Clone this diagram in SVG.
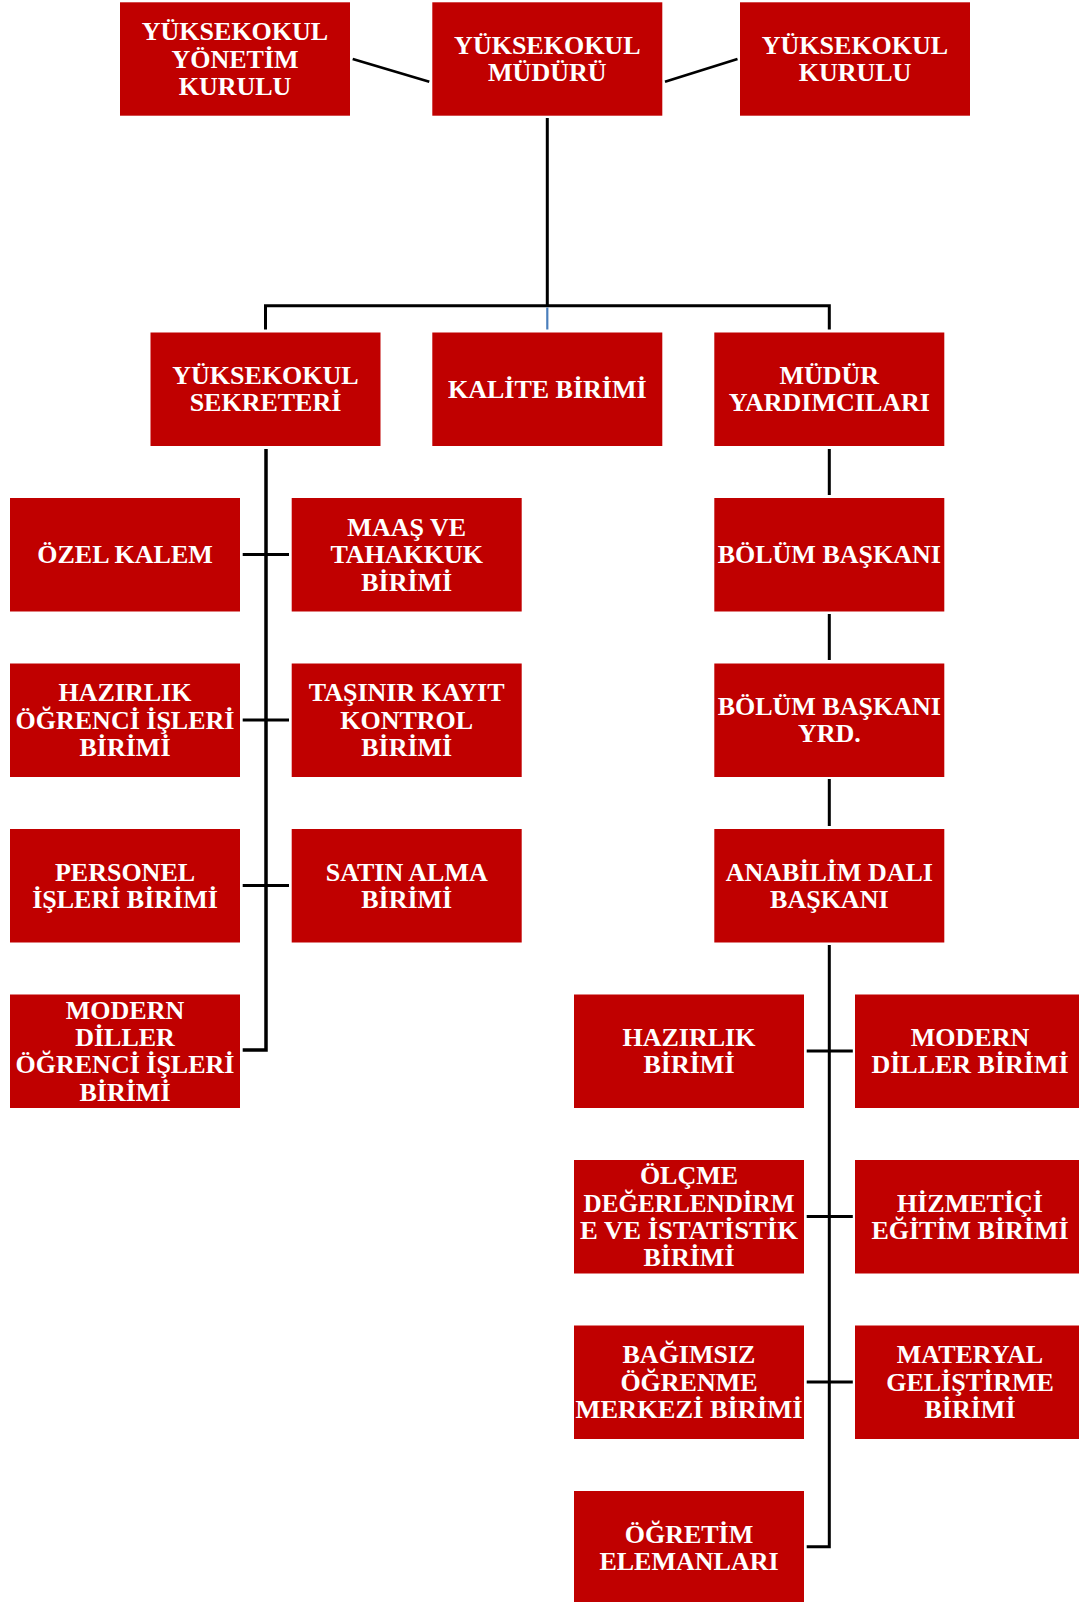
<svg xmlns="http://www.w3.org/2000/svg" width="1079" height="1602" viewBox="0 0 1079 1602">
<style>
.box{fill:#C00000}
.lbl{font-family:"Liberation Serif","Times New Roman",serif;font-weight:bold;font-size:26px;fill:#fff;text-anchor:middle}
.conn{stroke:#000;stroke-width:3;fill:none}
.thin{stroke-width:2.6}
.blue{stroke:#4A7EBB;stroke-width:2.2;fill:none}
</style>
<rect width="1079" height="1602" fill="#fff"/>
<g id="connectors">
<path class="conn thin" d="M352.7,59 L429.3,81.7"/>
<path class="conn thin" d="M665,81.7 L737.5,59"/>
<path class="conn" d="M547.3,118 V306"/>
<path class="conn" d="M265.5,329.5 V305.7 H829.3 V329.5"/>
<path class="blue" d="M547.3,307.5 V329.5"/>
<path class="conn" style="stroke-width:3.5" d="M266,449 V1050 H242.7"/>
<path class="conn" d="M242.7,554.5 H289 M242.7,720 H289 M242.7,885.5 H289"/>
<path class="conn" d="M829.3,449 V495 M829.3,614 V660 M829.3,779 V826"/>
<path class="conn" d="M829.3,945 V1546.7 H806.7"/>
<path class="conn" d="M806.7,1051 H852.8 M806.7,1216.5 H852.8 M806.7,1382 H852.8"/>
</g>
<g id="n_yonetim_kurulu"><rect class="box" x="120" y="2.3" width="230" height="113.4"/><text class="lbl"><tspan x="235" y="40.2">YÜKSEKOKUL</tspan><tspan x="235" y="67.5">YÖNETİM</tspan><tspan x="235" y="94.8">KURULU</tspan></text></g>
<g id="n_mudur"><rect class="box" x="432.3" y="2.3" width="230" height="113.4"/><text class="lbl"><tspan x="547.3" y="53.85">YÜKSEKOKUL</tspan><tspan x="547.3" y="81.15">MÜDÜRÜ</tspan></text></g>
<g id="n_kurulu"><rect class="box" x="740" y="2.3" width="230" height="113.4"/><text class="lbl"><tspan x="855" y="53.85">YÜKSEKOKUL</tspan><tspan x="855" y="81.15">KURULU</tspan></text></g>
<g id="n_sekreter"><rect class="box" x="150.5" y="332.5" width="230" height="113.5"/><text class="lbl"><tspan x="265.5" y="384.1">YÜKSEKOKUL</tspan><tspan x="265.5" y="411.4">SEKRETERİ</tspan></text></g>
<g id="n_kalite"><rect class="box" x="432.3" y="332.5" width="230" height="113.5"/><text class="lbl" x="547.3" y="397.75">KALİTE BİRİMİ</text></g>
<g id="n_mudur_yrd"><rect class="box" x="714.3" y="332.5" width="230" height="113.5"/><text class="lbl"><tspan x="829.3" y="384.1">MÜDÜR</tspan><tspan x="829.3" y="411.4">YARDIMCILARI</tspan></text></g>
<g id="n_ozel_kalem"><rect class="box" x="10" y="498" width="230" height="113.5"/><text class="lbl" x="125" y="563.25">ÖZEL KALEM</text></g>
<g id="n_maas"><rect class="box" x="291.7" y="498" width="230" height="113.5"/><text class="lbl"><tspan x="406.7" y="535.95">MAAŞ VE</tspan><tspan x="406.7" y="563.25">TAHAKKUK</tspan><tspan x="406.7" y="590.55">BİRİMİ</tspan></text></g>
<g id="n_bolum_baskani"><rect class="box" x="714.3" y="498" width="230" height="113.5"/><text class="lbl" x="829.3" y="563.25">BÖLÜM BAŞKANI</text></g>
<g id="n_hazirlik_ogr"><rect class="box" x="10" y="663.5" width="230" height="113.5"/><text class="lbl"><tspan x="125" y="701.45">HAZIRLIK</tspan><tspan x="125" y="728.75">ÖĞRENCİ İŞLERİ</tspan><tspan x="125" y="756.05">BİRİMİ</tspan></text></g>
<g id="n_tasinir"><rect class="box" x="291.7" y="663.5" width="230" height="113.5"/><text class="lbl"><tspan x="406.7" y="701.45">TAŞINIR KAYIT</tspan><tspan x="406.7" y="728.75">KONTROL</tspan><tspan x="406.7" y="756.05">BİRİMİ</tspan></text></g>
<g id="n_bolum_yrd"><rect class="box" x="714.3" y="663.5" width="230" height="113.5"/><text class="lbl"><tspan x="829.3" y="715.1">BÖLÜM BAŞKANI</tspan><tspan x="829.3" y="742.4">YRD.</tspan></text></g>
<g id="n_personel"><rect class="box" x="10" y="829" width="230" height="113.5"/><text class="lbl"><tspan x="125" y="880.6">PERSONEL</tspan><tspan x="125" y="907.9">İŞLERİ BİRİMİ</tspan></text></g>
<g id="n_satin_alma"><rect class="box" x="291.7" y="829" width="230" height="113.5"/><text class="lbl"><tspan x="406.7" y="880.6">SATIN ALMA</tspan><tspan x="406.7" y="907.9">BİRİMİ</tspan></text></g>
<g id="n_anabilim"><rect class="box" x="714.3" y="829" width="230" height="113.5"/><text class="lbl"><tspan x="829.3" y="880.6">ANABİLİM DALI</tspan><tspan x="829.3" y="907.9">BAŞKANI</tspan></text></g>
<g id="n_modern_ogr"><rect class="box" x="10" y="994.5" width="230" height="113.5"/><text class="lbl"><tspan x="125" y="1018.8">MODERN</tspan><tspan x="125" y="1046.1">DİLLER</tspan><tspan x="125" y="1073.4">ÖĞRENCİ İŞLERİ</tspan><tspan x="125" y="1100.7">BİRİMİ</tspan></text></g>
<g id="n_hazirlik_birimi"><rect class="box" x="574" y="994.5" width="230" height="113.5"/><text class="lbl"><tspan x="689" y="1046.1">HAZIRLIK</tspan><tspan x="689" y="1073.4">BİRİMİ</tspan></text></g>
<g id="n_modern_diller"><rect class="box" x="855" y="994.5" width="230" height="113.5"/><text class="lbl"><tspan x="970" y="1046.1">MODERN</tspan><tspan x="970" y="1073.4">DİLLER BİRİMİ</tspan></text></g>
<g id="n_olcme"><rect class="box" x="574" y="1160" width="230" height="113.5"/><text class="lbl"><tspan x="689" y="1184.3">ÖLÇME</tspan><tspan x="689" y="1211.6" textLength="211" lengthAdjust="spacingAndGlyphs">DEĞERLENDİRM</tspan><tspan x="689" y="1238.9" textLength="218" lengthAdjust="spacingAndGlyphs">E VE İSTATİSTİK</tspan><tspan x="689" y="1266.2">BİRİMİ</tspan></text></g>
<g id="n_hizmetici"><rect class="box" x="855" y="1160" width="230" height="113.5"/><text class="lbl"><tspan x="970" y="1211.6">HİZMETİÇİ</tspan><tspan x="970" y="1238.9">EĞİTİM BİRİMİ</tspan></text></g>
<g id="n_bagimsiz"><rect class="box" x="574" y="1325.5" width="230" height="113.5"/><text class="lbl"><tspan x="689" y="1363.45">BAĞIMSIZ</tspan><tspan x="689" y="1390.75">ÖĞRENME</tspan><tspan x="689" y="1418.05" textLength="227" lengthAdjust="spacingAndGlyphs">MERKEZİ BİRİMİ</tspan></text></g>
<g id="n_materyal"><rect class="box" x="855" y="1325.5" width="230" height="113.5"/><text class="lbl"><tspan x="970" y="1363.45">MATERYAL</tspan><tspan x="970" y="1390.75">GELİŞTİRME</tspan><tspan x="970" y="1418.05">BİRİMİ</tspan></text></g>
<g id="n_ogretim"><rect class="box" x="574" y="1491" width="230" height="113.5"/><text class="lbl"><tspan x="689" y="1542.6">ÖĞRETİM</tspan><tspan x="689" y="1569.9">ELEMANLARI</tspan></text></g>
</svg>
